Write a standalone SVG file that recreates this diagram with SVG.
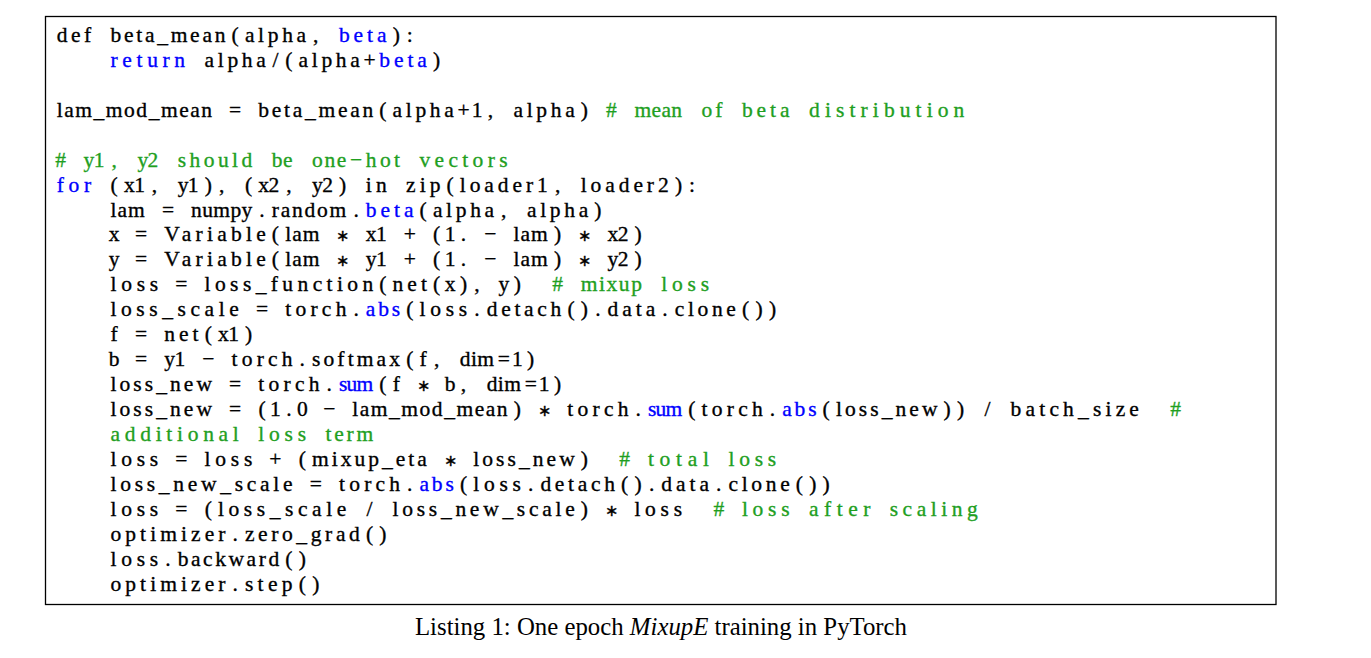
<svg xmlns="http://www.w3.org/2000/svg" width="1371" height="658" viewBox="0 0 1371 658">
<style>
text{font-family:"Liberation Serif","Times New Roman",serif;font-size:21.5px;fill:#000}
#code text{stroke:#000;stroke-width:0.35px}
#code .k{fill:#0000ff;stroke:#0000ff}
#code .g{fill:#1f9f1f;stroke:#1f9f1f}
.m{text-anchor:middle}
.a{font-size:16px}
.cap{font-size:24.8px;text-anchor:middle}
</style>
<rect width="1371" height="658" fill="#fff"/>
<rect id="frame" x="45.5" y="16.5" width="1230.5" height="588" fill="none" stroke="#000" stroke-width="1.3"/>
<g id="code">
<text y="42"><tspan x="56.8" textLength="34.3" lengthAdjust="spacing">def</tspan><tspan x="110.5" textLength="114.9" lengthAdjust="spacing">beta_mean</tspan><tspan class="m" x="235.1">(</tspan><tspan x="244.9" textLength="61.2" lengthAdjust="spacing">alpha</tspan><tspan class="m" x="315.8">,</tspan><tspan class="k" x="338.9" textLength="47.7" lengthAdjust="spacing">beta</tspan><tspan class="m" x="396.4">)</tspan><tspan class="m" x="409.8">:</tspan></text>
<text y="66.9"><tspan class="k" x="110.5" textLength="74.6" lengthAdjust="spacing">return</tspan><tspan x="204.6" textLength="61.2" lengthAdjust="spacing">alpha</tspan><tspan class="m" x="275.4">/</tspan><tspan class="m" x="288.9">(</tspan><tspan x="298.6" textLength="61.2" lengthAdjust="spacing">alpha</tspan><tspan class="m" x="369.5">+</tspan><tspan class="k" x="379.2" textLength="47.7" lengthAdjust="spacing">beta</tspan><tspan class="m" x="436.7">)</tspan></text>
<text y="116.8"><tspan x="56.8" textLength="155.2" lengthAdjust="spacing">lam_mod_mean</tspan><tspan class="m" x="235.1">=</tspan><tspan x="258.3" textLength="114.9" lengthAdjust="spacing">beta_mean</tspan><tspan class="m" x="382.9">(</tspan><tspan x="392.6" textLength="61.2" lengthAdjust="spacing">alpha</tspan><tspan class="m" x="463.5">+</tspan><tspan class="m" x="477">1</tspan><tspan class="m" x="490.4">,</tspan><tspan x="513.5" textLength="61.2" lengthAdjust="spacing">alpha</tspan><tspan class="m" x="584.4">)</tspan><tspan class="m g" x="611.3">#</tspan><tspan class="g" x="634.4" textLength="47.7" lengthAdjust="spacing">mean</tspan><tspan class="g" x="701.6" textLength="20.9" lengthAdjust="spacing">of</tspan><tspan class="g" x="741.9" textLength="47.7" lengthAdjust="spacing">beta</tspan><tspan class="g" x="809.1" textLength="155.2" lengthAdjust="spacing">distribution</tspan></text>
<text y="166.7" class="g"><tspan class="m" x="60.5">#</tspan><tspan x="83.6" textLength="20.9" lengthAdjust="spacing">y1</tspan><tspan class="m" x="114.2">,</tspan><tspan x="137.4" textLength="20.9" lengthAdjust="spacing">y2</tspan><tspan x="177.7" textLength="74.6" lengthAdjust="spacing">should</tspan><tspan x="271.7" textLength="20.9" lengthAdjust="spacing">be</tspan><tspan x="312" textLength="34.3" lengthAdjust="spacing">one</tspan><tspan class="m" x="356.1">−</tspan><tspan x="365.8" textLength="34.3" lengthAdjust="spacing">hot</tspan><tspan x="419.5" textLength="88" lengthAdjust="spacing">vectors</tspan></text>
<text y="191.6"><tspan class="k" x="56.8" textLength="34.3" lengthAdjust="spacing">for</tspan><tspan class="m" x="114.2">(</tspan><tspan x="124" textLength="20.9" lengthAdjust="spacing">x1</tspan><tspan class="m" x="154.5">,</tspan><tspan x="177.7" textLength="20.9" lengthAdjust="spacing">y1</tspan><tspan class="m" x="208.3">)</tspan><tspan class="m" x="221.7">,</tspan><tspan class="m" x="248.6">(</tspan><tspan x="258.3" textLength="20.9" lengthAdjust="spacing">x2</tspan><tspan class="m" x="288.9">,</tspan><tspan x="312" textLength="20.9" lengthAdjust="spacing">y2</tspan><tspan class="m" x="342.6">)</tspan><tspan x="365.8" textLength="20.9" lengthAdjust="spacing">in</tspan><tspan x="406.1" textLength="34.3" lengthAdjust="spacing">zip</tspan><tspan class="m" x="450.1">(</tspan><tspan x="459.8" textLength="88" lengthAdjust="spacing">loader1</tspan><tspan class="m" x="557.6">,</tspan><tspan x="580.7" textLength="88" lengthAdjust="spacing">loader2</tspan><tspan class="m" x="678.5">)</tspan><tspan class="m" x="691.9">:</tspan></text>
<text y="216.5"><tspan x="110.5" textLength="34.3" lengthAdjust="spacing">lam</tspan><tspan class="m" x="168">=</tspan><tspan x="191.1" textLength="61.2" lengthAdjust="spacing">numpy</tspan><tspan class="m" x="262">.</tspan><tspan x="271.7" textLength="74.6" lengthAdjust="spacing">random</tspan><tspan class="m" x="356.1">.</tspan><tspan class="k" x="365.8" textLength="47.7" lengthAdjust="spacing">beta</tspan><tspan class="m" x="423.2">(</tspan><tspan x="432.9" textLength="61.2" lengthAdjust="spacing">alpha</tspan><tspan class="m" x="503.8">,</tspan><tspan x="527" textLength="61.2" lengthAdjust="spacing">alpha</tspan><tspan class="m" x="597.9">)</tspan></text>
<text y="241.4"><tspan class="m" x="114.2">x</tspan><tspan class="m" x="141.1">=</tspan><tspan x="164.3" textLength="101.5" lengthAdjust="spacing">Variable</tspan><tspan class="m" x="275.4">(</tspan><tspan x="285.2" textLength="34.3" lengthAdjust="spacing">lam</tspan><tspan class="m a" x="342.6">∗</tspan><tspan x="365.8" textLength="20.9" lengthAdjust="spacing">x1</tspan><tspan class="m" x="409.8">+</tspan><tspan class="m" x="436.7">(</tspan><tspan class="m" x="450.1">1</tspan><tspan class="m" x="463.5">.</tspan><tspan class="m" x="490.4">−</tspan><tspan x="513.5" textLength="34.3" lengthAdjust="spacing">lam</tspan><tspan class="m" x="557.6">)</tspan><tspan class="m a" x="584.4">∗</tspan><tspan x="607.6" textLength="20.9" lengthAdjust="spacing">x2</tspan><tspan class="m" x="638.2">)</tspan></text>
<text y="266.4"><tspan class="m" x="114.2">y</tspan><tspan class="m" x="141.1">=</tspan><tspan x="164.3" textLength="101.5" lengthAdjust="spacing">Variable</tspan><tspan class="m" x="275.4">(</tspan><tspan x="285.2" textLength="34.3" lengthAdjust="spacing">lam</tspan><tspan class="m a" x="342.6">∗</tspan><tspan x="365.8" textLength="20.9" lengthAdjust="spacing">y1</tspan><tspan class="m" x="409.8">+</tspan><tspan class="m" x="436.7">(</tspan><tspan class="m" x="450.1">1</tspan><tspan class="m" x="463.5">.</tspan><tspan class="m" x="490.4">−</tspan><tspan x="513.5" textLength="34.3" lengthAdjust="spacing">lam</tspan><tspan class="m" x="557.6">)</tspan><tspan class="m a" x="584.4">∗</tspan><tspan x="607.6" textLength="20.9" lengthAdjust="spacing">y2</tspan><tspan class="m" x="638.2">)</tspan></text>
<text y="291.3"><tspan x="110.5" textLength="47.7" lengthAdjust="spacing">loss</tspan><tspan class="m" x="181.4">=</tspan><tspan x="204.6" textLength="168.6" lengthAdjust="spacing">loss_function</tspan><tspan class="m" x="382.9">(</tspan><tspan x="392.6" textLength="34.3" lengthAdjust="spacing">net</tspan><tspan class="m" x="436.7">(</tspan><tspan class="m" x="450.1">x</tspan><tspan class="m" x="463.5">)</tspan><tspan class="m" x="477">,</tspan><tspan class="m" x="503.8">y</tspan><tspan class="m" x="517.3">)</tspan><tspan class="m g" x="557.6">#</tspan><tspan class="g" x="580.7" textLength="61.2" lengthAdjust="spacing">mixup</tspan><tspan class="g" x="661.3" textLength="47.7" lengthAdjust="spacing">loss</tspan></text>
<text y="316.2"><tspan x="110.5" textLength="128.3" lengthAdjust="spacing">loss_scale</tspan><tspan class="m" x="262">=</tspan><tspan x="285.2" textLength="61.2" lengthAdjust="spacing">torch</tspan><tspan class="m" x="356.1">.</tspan><tspan class="k" x="365.8" textLength="34.3" lengthAdjust="spacing">abs</tspan><tspan class="m" x="409.8">(</tspan><tspan x="419.5" textLength="47.7" lengthAdjust="spacing">loss</tspan><tspan class="m" x="477">.</tspan><tspan x="486.7" textLength="74.6" lengthAdjust="spacing">detach</tspan><tspan class="m" x="571">(</tspan><tspan class="m" x="584.4">)</tspan><tspan class="m" x="597.9">.</tspan><tspan x="607.6" textLength="47.7" lengthAdjust="spacing">data</tspan><tspan class="m" x="665">.</tspan><tspan x="674.7" textLength="61.2" lengthAdjust="spacing">clone</tspan><tspan class="m" x="745.6">(</tspan><tspan class="m" x="759.1">)</tspan><tspan class="m" x="772.5">)</tspan></text>
<text y="341.2"><tspan class="m" x="114.2">f</tspan><tspan class="m" x="141.1">=</tspan><tspan x="164.3" textLength="34.3" lengthAdjust="spacing">net</tspan><tspan class="m" x="208.3">(</tspan><tspan x="218" textLength="20.9" lengthAdjust="spacing">x1</tspan><tspan class="m" x="248.6">)</tspan></text>
<text y="366.1"><tspan class="m" x="114.2">b</tspan><tspan class="m" x="141.1">=</tspan><tspan x="164.3" textLength="20.9" lengthAdjust="spacing">y1</tspan><tspan class="m" x="208.3">−</tspan><tspan x="231.4" textLength="61.2" lengthAdjust="spacing">torch</tspan><tspan class="m" x="302.3">.</tspan><tspan x="312" textLength="88" lengthAdjust="spacing">softmax</tspan><tspan class="m" x="409.8">(</tspan><tspan class="m" x="423.2">f</tspan><tspan class="m" x="436.7">,</tspan><tspan x="459.8" textLength="34.3" lengthAdjust="spacing">dim</tspan><tspan class="m" x="503.8">=</tspan><tspan class="m" x="517.3">1</tspan><tspan class="m" x="530.7">)</tspan></text>
<text y="391"><tspan x="110.5" textLength="101.5" lengthAdjust="spacing">loss_new</tspan><tspan class="m" x="235.1">=</tspan><tspan x="258.3" textLength="61.2" lengthAdjust="spacing">torch</tspan><tspan class="m" x="329.2">.</tspan><tspan class="k" x="338.9" textLength="34.3" lengthAdjust="spacing">sum</tspan><tspan class="m" x="382.9">(</tspan><tspan class="m" x="396.4">f</tspan><tspan class="m a" x="423.2">∗</tspan><tspan class="m" x="450.1">b</tspan><tspan class="m" x="463.5">,</tspan><tspan x="486.7" textLength="34.3" lengthAdjust="spacing">dim</tspan><tspan class="m" x="530.7">=</tspan><tspan class="m" x="544.1">1</tspan><tspan class="m" x="557.6">)</tspan></text>
<text y="416"><tspan x="110.5" textLength="101.5" lengthAdjust="spacing">loss_new</tspan><tspan class="m" x="235.1">=</tspan><tspan class="m" x="262">(</tspan><tspan class="m" x="275.4">1</tspan><tspan class="m" x="288.9">.</tspan><tspan class="m" x="302.3">0</tspan><tspan class="m" x="329.2">−</tspan><tspan x="352.3" textLength="155.2" lengthAdjust="spacing">lam_mod_mean</tspan><tspan class="m" x="517.3">)</tspan><tspan class="m a" x="544.1">∗</tspan><tspan x="567.3" textLength="61.2" lengthAdjust="spacing">torch</tspan><tspan class="m" x="638.2">.</tspan><tspan class="k" x="647.9" textLength="34.3" lengthAdjust="spacing">sum</tspan><tspan class="m" x="691.9">(</tspan><tspan x="701.6" textLength="61.2" lengthAdjust="spacing">torch</tspan><tspan class="m" x="772.5">.</tspan><tspan class="k" x="782.2" textLength="34.3" lengthAdjust="spacing">abs</tspan><tspan class="m" x="826.2">(</tspan><tspan x="836" textLength="101.5" lengthAdjust="spacing">loss_new</tspan><tspan class="m" x="947.1">)</tspan><tspan class="m" x="960.6">)</tspan><tspan class="m" x="987.5">/</tspan><tspan x="1010.6" textLength="128.3" lengthAdjust="spacing">batch_size</tspan><tspan class="m g" x="1175.5">#</tspan></text>
<text y="440.9" class="g"><tspan x="110.5" textLength="128.3" lengthAdjust="spacing">additional</tspan><tspan x="258.3" textLength="47.7" lengthAdjust="spacing">loss</tspan><tspan x="325.5" textLength="47.7" lengthAdjust="spacing">term</tspan></text>
<text y="465.8"><tspan x="110.5" textLength="47.7" lengthAdjust="spacing">loss</tspan><tspan class="m" x="181.4">=</tspan><tspan x="204.6" textLength="47.7" lengthAdjust="spacing">loss</tspan><tspan class="m" x="275.4">+</tspan><tspan class="m" x="302.3">(</tspan><tspan x="312" textLength="114.9" lengthAdjust="spacing">mixup_eta</tspan><tspan class="m a" x="450.1">∗</tspan><tspan x="473.2" textLength="101.5" lengthAdjust="spacing">loss_new</tspan><tspan class="m" x="584.4">)</tspan><tspan class="m g" x="624.7">#</tspan><tspan class="g" x="647.9" textLength="61.2" lengthAdjust="spacing">total</tspan><tspan class="g" x="728.5" textLength="47.7" lengthAdjust="spacing">loss</tspan></text>
<text y="490.7"><tspan x="110.5" textLength="182.1" lengthAdjust="spacing">loss_new_scale</tspan><tspan class="m" x="315.8">=</tspan><tspan x="338.9" textLength="61.2" lengthAdjust="spacing">torch</tspan><tspan class="m" x="409.8">.</tspan><tspan class="k" x="419.5" textLength="34.3" lengthAdjust="spacing">abs</tspan><tspan class="m" x="463.5">(</tspan><tspan x="473.2" textLength="47.7" lengthAdjust="spacing">loss</tspan><tspan class="m" x="530.7">.</tspan><tspan x="540.4" textLength="74.6" lengthAdjust="spacing">detach</tspan><tspan class="m" x="624.7">(</tspan><tspan class="m" x="638.2">)</tspan><tspan class="m" x="651.6">.</tspan><tspan x="661.3" textLength="47.7" lengthAdjust="spacing">data</tspan><tspan class="m" x="718.8">.</tspan><tspan x="728.5" textLength="61.2" lengthAdjust="spacing">clone</tspan><tspan class="m" x="799.4">(</tspan><tspan class="m" x="812.8">)</tspan><tspan class="m" x="826.2">)</tspan></text>
<text y="515.7"><tspan x="110.5" textLength="47.7" lengthAdjust="spacing">loss</tspan><tspan class="m" x="181.4">=</tspan><tspan class="m" x="208.3">(</tspan><tspan x="218" textLength="128.3" lengthAdjust="spacing">loss_scale</tspan><tspan class="m" x="369.5">/</tspan><tspan x="392.6" textLength="182.1" lengthAdjust="spacing">loss_new_scale</tspan><tspan class="m" x="584.4">)</tspan><tspan class="m a" x="611.3">∗</tspan><tspan x="634.4" textLength="47.7" lengthAdjust="spacing">loss</tspan><tspan class="m g" x="718.8">#</tspan><tspan class="g" x="741.9" textLength="47.7" lengthAdjust="spacing">loss</tspan><tspan class="g" x="809.1" textLength="61.2" lengthAdjust="spacing">after</tspan><tspan class="g" x="889.7" textLength="88" lengthAdjust="spacing">scaling</tspan></text>
<text y="540.6"><tspan x="110.5" textLength="114.9" lengthAdjust="spacing">optimizer</tspan><tspan class="m" x="235.1">.</tspan><tspan x="244.9" textLength="114.9" lengthAdjust="spacing">zero_grad</tspan><tspan class="m" x="369.5">(</tspan><tspan class="m" x="382.9">)</tspan></text>
<text y="565.5"><tspan x="110.5" textLength="47.7" lengthAdjust="spacing">loss</tspan><tspan class="m" x="168">.</tspan><tspan x="177.7" textLength="101.5" lengthAdjust="spacing">backward</tspan><tspan class="m" x="288.9">(</tspan><tspan class="m" x="302.3">)</tspan></text>
<text y="590.5"><tspan x="110.5" textLength="114.9" lengthAdjust="spacing">optimizer</tspan><tspan class="m" x="235.1">.</tspan><tspan x="244.9" textLength="47.7" lengthAdjust="spacing">step</tspan><tspan class="m" x="302.3">(</tspan><tspan class="m" x="315.8">)</tspan></text>
</g>
<text id="caption" class="cap" x="661" y="635">Listing 1: One epoch <tspan font-style="italic">MixupE</tspan> training in PyTorch</text>
</svg>
